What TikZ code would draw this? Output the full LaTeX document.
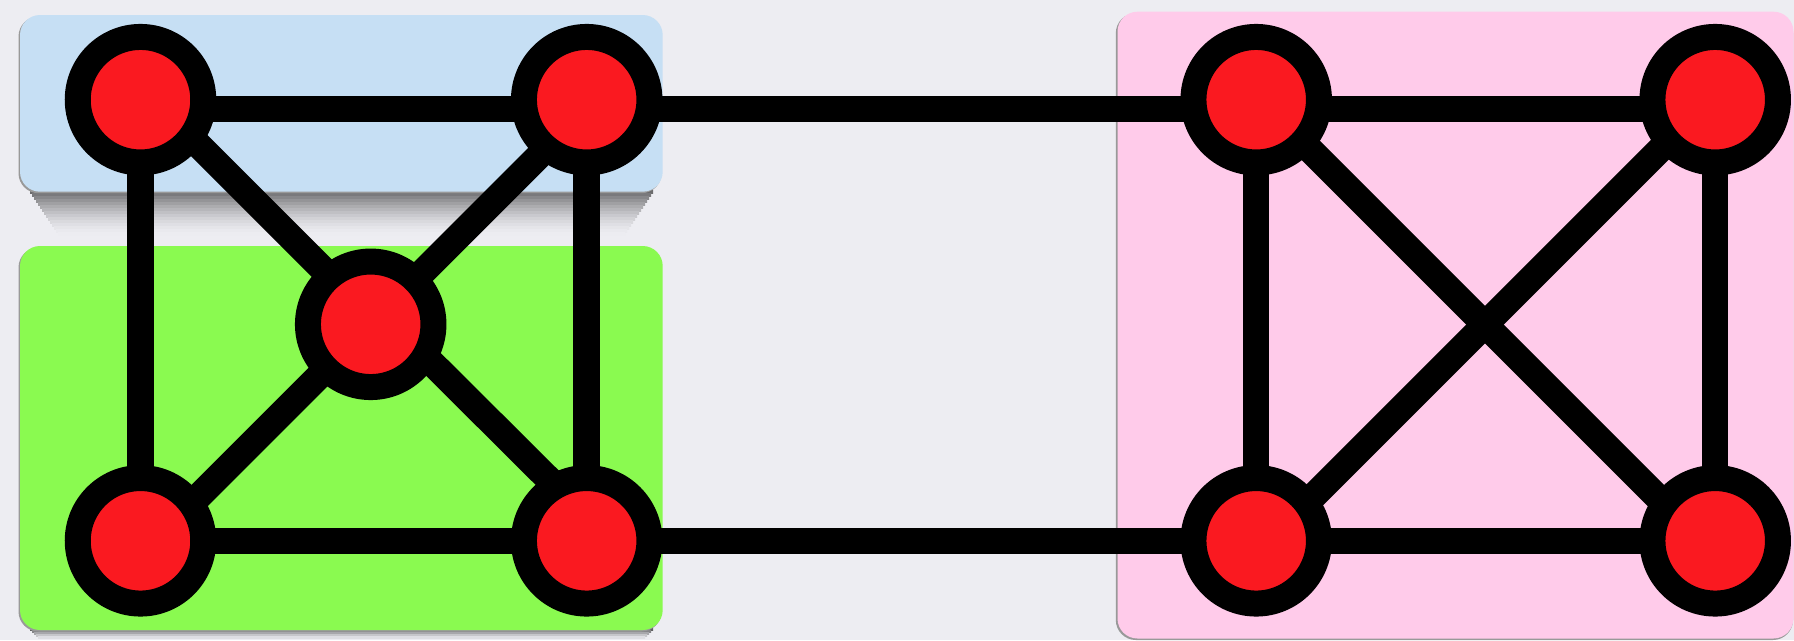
\documentclass[tikz,border=0pt]{standalone}
\definecolor{bgc}{RGB}{237,237,242}
\definecolor{boxblue}{RGB}{198,223,244}
\definecolor{boxgreen}{RGB}{138,250,80}
\definecolor{boxpink}{RGB}{255,203,234}
\definecolor{nodered}{RGB}{250,25,32}
\pgfdeclarelayer{back}
\pgfdeclarelayer{edges}
\pgfsetlayers{back,edges,main}
\tikzset{
  panel/.style={rounded corners=20pt},
  rim/.style={fill=black!40, rounded corners=20pt},
  vtx/.style={circle, draw=black, fill=nodered, line width=26pt,
              minimum size=125.5pt, inner sep=0pt, outer sep=0pt},
  link/.style={draw=black, line width=26.5pt},
}
\begin{document}
\begin{tikzpicture}[x=1pt,y=-1pt]
\useasboundingbox (0,0) rectangle (1794,640);

% ---- vertices ----
\node[vtx] (a1) at (140.5,99.7) {};
\node[vtx] (a2) at (586.7,99.7) {};
\node[vtx] (am) at (370.7,324.3) {};
\node[vtx] (a3) at (140.5,540.8) {};
\node[vtx] (a4) at (586.7,540.8) {};
\node[vtx] (b1) at (1256.2,99.7) {};
\node[vtx] (b2) at (1715.2,99.7) {};
\node[vtx] (b3) at (1256.2,540.8) {};
\node[vtx] (b4) at (1715.2,540.8) {};

% ---- panels and their shadows ----
\begin{pgfonlayer}{back}
\fill[bgc] (0,0) rectangle (1794,640);
% blue panel shadow
\foreach \i in {0,...,14}{
  \pgfmathsetmacro{\ds}{55*(1-\i/15)^1.7}
  \pgfmathsetmacro{\dm}{30*(1-\i/15)^1.7}
  \shade[left color=black!\ds!bgc, middle color=black!\dm!bgc, right color=black!\ds!bgc]
    (30+2*\i,190+3*\i) rectangle (653-2*\i,193+3*\i);
}
% green panel shadow
\foreach \i in {0,...,4}{
  \pgfmathsetmacro{\ds}{60*(1-\i/5)^1.4}
  \pgfmathsetmacro{\dm}{35*(1-\i/5)^1.4}
  \shade[left color=black!\ds!bgc, middle color=black!\dm!bgc, right color=black!\ds!bgc]
    (30+2*\i,628+2*\i) rectangle (653-2*\i,630+2*\i);
}
\fill[rim] (18.5,16.5) rectangle (661.5,193.2);
\fill[boxblue, panel] (20,15) rectangle (662.7,191.7);
\fill[rim] (18.5,247.5) rectangle (661.5,631.5);
\fill[boxgreen, panel] (20,246) rectangle (662.7,630);
\fill[rim] (1115.8,13.2) rectangle (1793,640);
\fill[boxpink, panel] (1117.5,11.7) rectangle (1793.5,638.5);
\end{pgfonlayer}

% ---- edges ----
\begin{pgfonlayer}{edges}
% left group
\draw[link] ([yshift=-9.3pt]a1.center) -- ([yshift=-9.3pt]a2.center);
\draw[link] (a3.center) -- (a4.center);
\draw[link] (a1.center) -- (a3.center);
\draw[link] (a2.center) -- (a4.center);
\draw[link] ([yshift=12.7pt]a1.center) -- ([yshift=7.3pt]am.center);
\draw[link] ([yshift=22.3pt]am.center) -- ([yshift=23.8pt]a4.center);
\draw[link] ([yshift=-8.3pt]a2.center) -- ([yshift=-14pt]a3.center);
% bridges between the groups
\draw[link] ([yshift=-9.3pt]a2.center) -- ([yshift=-9.3pt]b1.center);
\draw[link] (a4.center) -- (b3.center);
% right group
\draw[link] ([yshift=-9.3pt]b1.center) -- ([yshift=-9.3pt]b2.center);
\draw[link] (b3.center) -- (b4.center);
\draw[link] (b1.center) -- (b3.center);
\draw[link] (b2.center) -- (b4.center);
\draw[link] ([yshift=3.8pt]b1.center) -- ([yshift=-14.1pt]b4.center);
\draw[link] ([yshift=5.2pt]b2.center) -- ([yshift=-12.7pt]b3.center);
\end{pgfonlayer}
\end{tikzpicture}
\end{document}
